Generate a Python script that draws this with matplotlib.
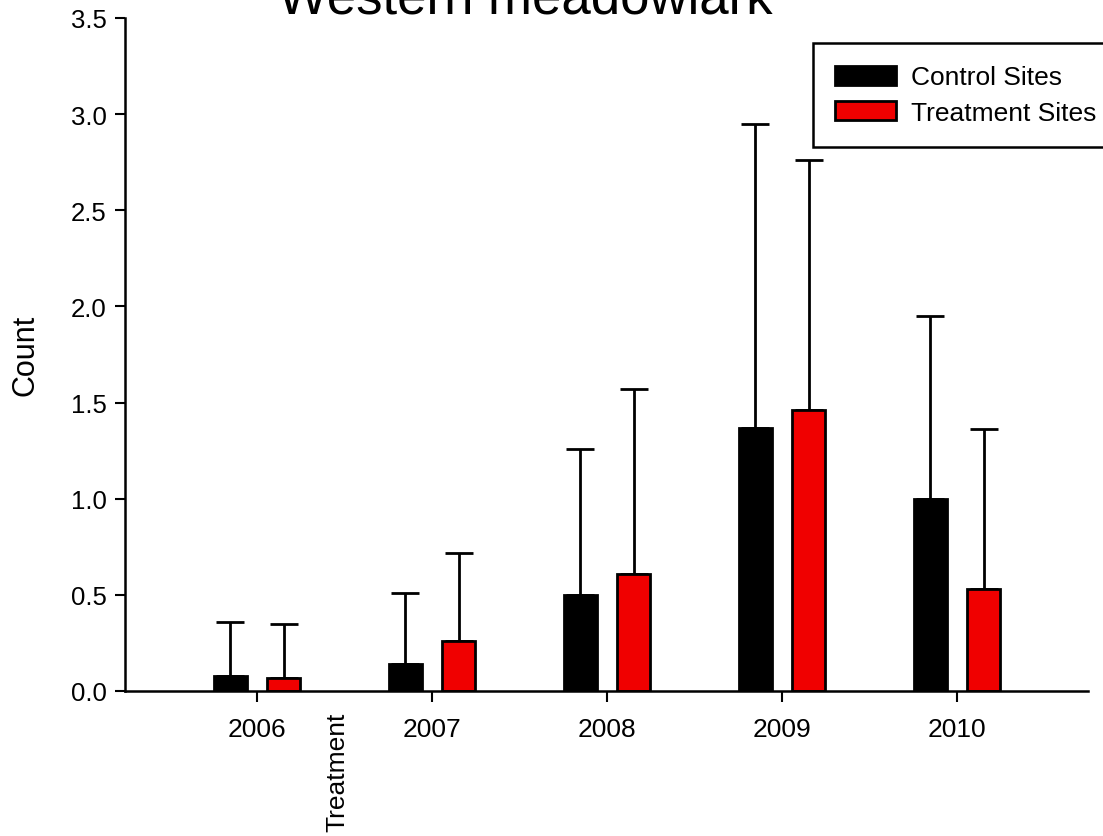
import matplotlib
matplotlib.use("Agg")
import matplotlib.pyplot as plt
import numpy as np

plt.rcParams['font.family'] = ['Liberation Sans', 'DejaVu Sans']

years = ["2006", "2007", "2008", "2009", "2010"]
control = [0.08, 0.14, 0.50, 1.37, 1.00]
control_err = [0.28, 0.37, 0.76, 1.58, 0.95]
treatment = [0.07, 0.26, 0.61, 1.46, 0.53]
treatment_err = [0.28, 0.46, 0.96, 1.30, 0.83]

x = np.arange(len(years))
w = 0.19
off = 0.152

fig = plt.figure(figsize=(11.03, 8.37), dpi=100)
ax = fig.add_axes([125 / 1103, 145 / 837, (1088 - 125) / 1103, 673 / 837])

ax.bar(x - off, control, w, color="black", edgecolor="black", linewidth=2,
       label="Control Sites", zorder=2)
ax.bar(x + off, treatment, w, color="#f00000", edgecolor="black", linewidth=2,
       label="Treatment Sites", zorder=2)

# upper error bars only
ax.errorbar(x - off, control, yerr=[np.zeros(5), control_err], fmt="none",
            ecolor="black", elinewidth=2, capsize=10, capthick=2, zorder=1)
ax.errorbar(x + off, treatment, yerr=[np.zeros(5), treatment_err], fmt="none",
            ecolor="black", elinewidth=2, capsize=10, capthick=2, zorder=1)

ax.set_xlim(-0.754, 4.749)
ax.set_ylim(0, 3.5)
ax.set_yticks(np.arange(0, 3.51, 0.5))
ax.set_yticklabels([f"{v:.1f}" for v in np.arange(0, 3.51, 0.5)], fontsize=18.5)
ax.set_xticks(x)
ax.set_xticklabels(years, fontsize=19)
ax.tick_params(axis="y", direction="out", length=7, width=1.5, pad=6)
ax.tick_params(axis="x", direction="out", length=8, width=1.5, pad=11)

for s in ["top", "right"]:
    ax.spines[s].set_visible(False)
for s in ["left", "bottom"]:
    ax.spines[s].set_linewidth(1.8)

ax.set_ylabel("Count", fontsize=22, labelpad=22)

ax.text(0.46, -0.03, "Treatment", rotation=90, ha="center", va="top",
        fontsize=19, transform=ax.get_xaxis_transform())

fig.text(525 / 1103, 1 - 14 / 837, "Western meadowlark", ha="center",
         va="baseline", fontsize=38)

leg = fig.legend(loc="upper left", bbox_to_anchor=(813 / 1103, 1 - 44 / 837),
                 fontsize=19, frameon=True, fancybox=False, edgecolor="black",
                 framealpha=1, handlelength=2.3, handleheight=0.75,
                 labelspacing=0.42, borderpad=0.85, handletextpad=0.55,
                 borderaxespad=0)
leg.get_frame().set_linewidth(1.8)

fig.savefig("out.png", dpi=100)
